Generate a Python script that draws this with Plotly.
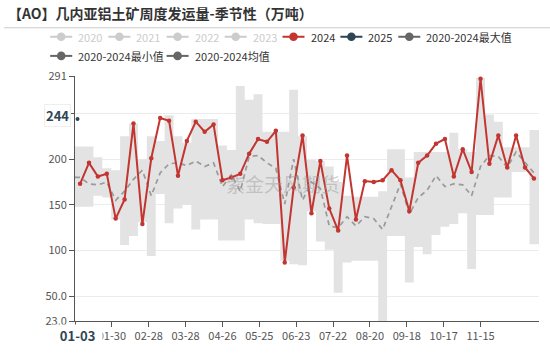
import plotly.graph_objects as go
import pandas as pd

# ---------------- data ----------------
TITLE = "【AO】几内亚铝土矿周度发运量-季节性（万吨）"
WATERMARK = "紫金天风期货"

week_start = "2024-01-05"          # weekly (Friday) dates on the seasonal axis
n_weeks = 52

y2024 = [173, 196, 181, 184, 135, 156, 239, 129, 201, 245,
         242, 182, 220, 241, 230, 238, 177, 180, 184, 206,
         222, 219, 231, 87, 169, 226, 141, 198, 146, 122,
         204, 134, 176, 175, 177, 188, 177, 143, 196, 204,
         217, 222, 181, 211, 186, 288, 195, 226, 191, 226,
         191, 179]

dates2025 = ["2024-01-03"]          # 2025-01-03 on the seasonal axis
y2025 = [244]

band_max = [214, 214, 202, 190, 188, 225, 239, 200, 225, 220,
            248, 225, 218, 244, 244, 244, 215, 210, 280, 265,
            271, 230, 230, 230, 276, 225, 199, 198, 192, 175,
            160, 159, 159, 159, 165, 211, 211, 180, 208, 208,
            208, 208, 229, 211, 208, 289, 249, 241, 213, 213,
            213, 232]

band_min = [148, 148, 160, 158, 134, 106, 116, 131, 94, 162,
            130, 146, 150, 123, 134, 134, 111, 111, 111, 134,
            130, 129, 129, 89, 85, 84, 143, 110, 101, 54,
            87, 89, 89, 89, 23, 116, 116, 65, 104, 96,
            117, 126, 129, 141, 80, 139, 139, 158, 158, 186,
            186, 107]

band_mean = [180, 173, 172, 175, 155, 165, 178, 188, 160, 185,
             195, 196, 193, 198, 192, 196, 170, 183, 165, 203,
             204, 196, 190, 151, 200, 155, 175, 168, 127, 125,
             137, 127, 137, 135, 123, 148, 173, 140, 158, 166,
             182, 170, 173, 172, 160, 192, 204, 203, 191, 208,
             196, 185]

x_tick_labels = ["01-01", "01-30", "02-28", "03-28", "04-26", "05-25",
                 "06-23", "07-22", "08-20", "09-18", "10-17", "11-15"]
y_ticks = [23, 50, 100, 150, 200, 250, 291]
y_tick_text = ["23.0", "50.0", "100", "150", "200", "", "291"]

legend_row1 = [("2020", "#cccccc", False), ("2021", "#cccccc", False),
               ("2022", "#cccccc", False), ("2023", "#cccccc", False),
               ("2024", "#c23531", True), ("2025", "#2f4554", True),
               ("2020-2024最大值", "#666666", True)]
legend_row2 = [("2020-2024最小值", "#666666", True),
               ("2020-2024均值", "#666666", True)]

# ---------------- geometry ----------------
W, H = 550, 354
ML, MR, MT, MB = 75, 11, 76, 22
PW, PH = W - ML - MR, H - MT - MB


def px2x(px):
    return (px - ML) / PW


def py2y(py):
    return (H - MB - py) / PH


FONT = "Noto Sans CJK SC, Noto Sans, sans-serif"
RED = "#c23531"
NAVY = "#2f4554"

weeks = pd.date_range(week_start, periods=n_weeks, freq="7D")
start = pd.Timestamp("2024-01-01")
edges = ([start]
         + list(weeks[1:] - pd.Timedelta(hours=84))
         + [pd.Timestamp("2024-12-31")])


def stepped(vals):
    return list(vals) + [vals[-1]]


fig = go.Figure()

# band min (invisible) + max filled
fig.add_trace(go.Scatter(x=edges, y=stepped(band_min), mode="lines",
                         line=dict(width=0, shape="hv", color="rgba(0,0,0,0)"),
                         showlegend=False, hoverinfo="skip"))
fig.add_trace(go.Scatter(x=edges, y=stepped(band_max), mode="lines",
                         line=dict(width=0, shape="hv", color="rgba(0,0,0,0)"),
                         fill="tonexty", fillcolor="#e3e3e3",
                         showlegend=False, hoverinfo="skip"))
# mean dashed
mean_x = [start] + list(weeks)
mean_y = [band_mean[0]] + list(band_mean)
fig.add_trace(go.Scatter(x=mean_x, y=mean_y, mode="lines",
                         line=dict(width=1.7, color="#9a9a9a", dash="5px,4px"),
                         showlegend=False))
# 2024
fig.add_trace(go.Scatter(x=weeks, y=y2024, mode="lines+markers",
                         line=dict(color=RED, width=2),
                         marker=dict(color=RED, size=4.5),
                         showlegend=False))
# 2025
fig.add_trace(go.Scatter(x=pd.to_datetime(dates2025), y=y2025, mode="markers",
                         marker=dict(color=NAVY, size=4),
                         showlegend=False))

shapes = []
annotations = []

# divider under title
shapes.append(dict(type="line", xref="paper", yref="paper",
                   x0=px2x(4), x1=px2x(550), y0=py2y(25.6), y1=py2y(25.6),
                   line=dict(color="#cccccc", width=1)))


def add_legend_item(label, color, active, icon_x, row_y):
    shapes.append(dict(type="line", xref="paper", yref="paper",
                       x0=px2x(icon_x), x1=px2x(icon_x + 22),
                       y0=py2y(row_y), y1=py2y(row_y),
                       line=dict(color=color, width=2)))
    shapes.append(dict(type="circle", xref="paper", yref="paper",
                       xsizemode="pixel", ysizemode="pixel",
                       xanchor=px2x(icon_x + 11), yanchor=py2y(row_y),
                       x0=-4.3, x1=4.3, y0=-4.3, y1=4.3,
                       fillcolor=color, line=dict(color=color, width=0)))
    annotations.append(dict(xref="paper", yref="paper",
                            x=px2x(icon_x + 26), y=py2y(row_y),
                            xanchor="left", yanchor="middle", showarrow=False,
                            text=label,
                            font=dict(size=11, family=FONT,
                                      color="#333333" if active else "#cccccc")))


row1_x = [50.2, 108.4, 166.6, 224.7, 282.5, 340.4, 398.3]
for (lbl, col, act), ix in zip(legend_row1, row1_x):
    add_legend_item(lbl, col, act, ix, 35)
row2_x = [50.2, 166.6]
for (lbl, col, act), ix in zip(legend_row2, row2_x):
    add_legend_item(lbl, col, act, ix, 55)

# highlighted axis labels for latest point
annotations.append(dict(xref="paper", yref="y", x=0, y=y2025[0], xanchor="right",
                        yanchor="middle", xshift=-4, yshift=3, showarrow=False,
                        text="<b>%d</b>" % y2025[0],
                        font=dict(size=13, family=FONT, color=NAVY),
                        bgcolor="white", bordercolor="#eeeeee", borderwidth=1, borderpad=1))
annotations.append(dict(xref="x", yref="paper", x=pd.Timestamp(dates2025[0]), y=0,
                        xanchor="center", yanchor="top", yshift=-3, showarrow=False,
                        text="&nbsp;&nbsp;<b>01-03</b>&nbsp;&nbsp;",
                        font=dict(size=13, family=FONT, color=NAVY),
                        bgcolor="white", borderpad=1))
# watermark
annotations.append(dict(xref="paper", yref="paper", x=px2x(283), y=py2y(188),
                        xanchor="center", yanchor="middle", showarrow=False,
                        text=WATERMARK,
                        font=dict(size=19, family=FONT, color="rgba(150,150,150,0.45)")))

tick_dates = [pd.Timestamp("2024-" + t) for t in x_tick_labels]
tick_text = [""] + x_tick_labels[1:]

fig.update_layout(
    width=W, height=H,
    margin=dict(l=ML, r=MR, t=MT, b=MB, pad=0),
    paper_bgcolor="white", plot_bgcolor="white",
    font=dict(family=FONT, size=11, color="#555555"),
    title=dict(text="<b>" + TITLE + "</b>", x=8 / W, xref="container", xanchor="left",
               y=1 - 14 / H, yref="container", yanchor="middle",
               font=dict(size=14, family=FONT, color="#333333")),
    showlegend=False,
    shapes=shapes,
    annotations=annotations,
    xaxis=dict(type="date", range=["2024-01-01", "2024-12-31"],
               tickvals=tick_dates, ticktext=tick_text,
               showgrid=False, zeroline=False,
               showline=True, linecolor="#555555", linewidth=1,
               ticks="outside", ticklen=5, tickcolor="#555555",
               tickfont=dict(size=11, color="#555555")),
    yaxis=dict(range=[23, 291], tickvals=y_ticks, ticktext=y_tick_text,
               showgrid=True, gridcolor="#ececec", zeroline=False,
               showline=True, linecolor="#555555", linewidth=1,
               ticks="outside", ticklen=5, tickcolor="#555555",
               tickfont=dict(size=11, color="#555555")),
)

fig.write_html("out.html")
